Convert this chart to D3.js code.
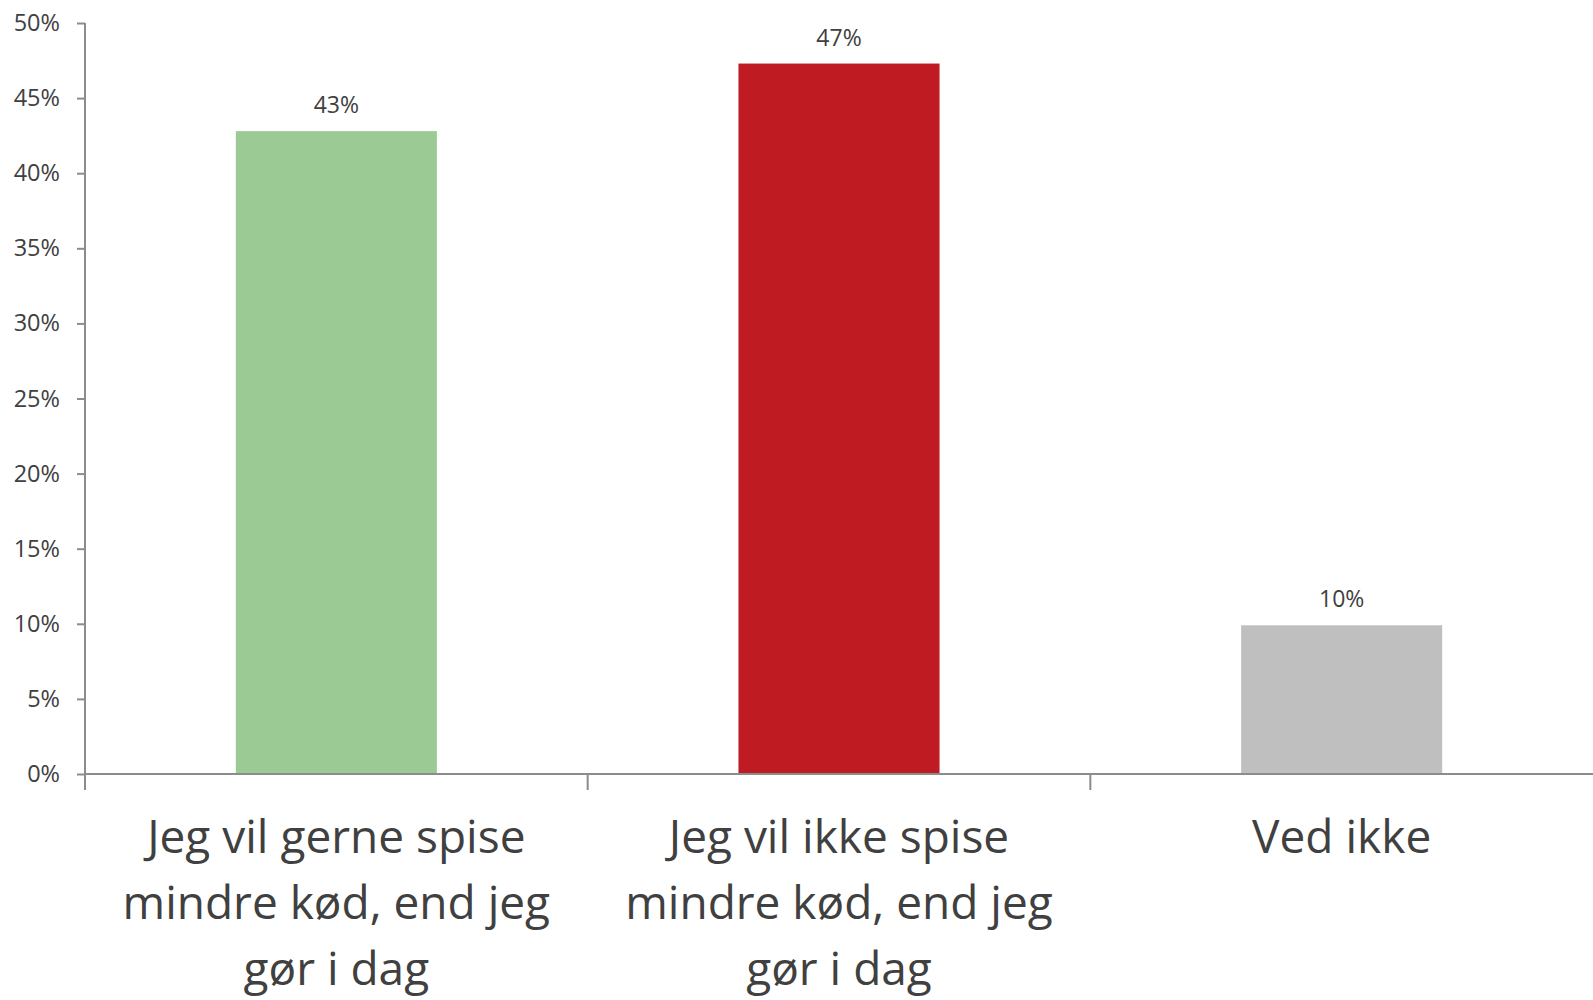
<!DOCTYPE html>
<html>
<head>
<meta charset="utf-8">
<script src="https://cdn.jsdelivr.net/npm/d3@7"></script>
<style>
  html, body { margin: 0; padding: 0; background: #ffffff; }
  svg { display: block; font-family: "Open Sans", sans-serif; }
</style>
</head>
<body>
<svg id="chart" width="1593" height="1000"></svg>
<script>
const categories = [
  "Jeg vil gerne spise mindre kød, end jeg gør i dag",
  "Jeg vil ikke spise mindre kød, end jeg gør i dag",
  "Ved ikke"
];
const categoryLines = [
  ["Jeg vil gerne spise", "mindre kød, end jeg", "gør i dag"],
  ["Jeg vil ikke spise", "mindre kød, end jeg", "gør i dag"],
  ["Ved ikke"]
];
const values = [0.428, 0.473, 0.099];
const valueLabels = ["43%", "47%", "10%"];
const barColors = ["#9BCA95", "#BE1B23", "#BFBFBF"];
const yTicks = [0, 0.05, 0.10, 0.15, 0.20, 0.25, 0.30, 0.35, 0.40, 0.45, 0.50];

(function () {
const svg = d3.select("#chart");
const mLeft = 85, mRight = 1593, mTop = 23, mBottom = 774;

const x = d3.scaleBand().domain(categories).range([mLeft, mRight]).paddingInner(0.6).paddingOuter(0.3);
const xb = d3.scaleBand().domain(categories).range([mLeft, mRight]).padding(0);
const y = d3.scaleLinear().domain([0, 0.5]).range([mBottom, mTop]);

const axisColor = "#8C8C8C";
const textColor = "#404040";

// bars
svg.append("g").selectAll("rect").data(categories).join("rect")
  .attr("x", d => x(d))
  .attr("width", x.bandwidth())
  .attr("y", (d, i) => y(values[i]))
  .attr("height", (d, i) => y(0) - y(values[i]))
  .attr("fill", (d, i) => barColors[i]);

// value labels
svg.append("g").selectAll("text").data(categories).join("text")
  .attr("x", d => x(d) + x.bandwidth() / 2)
  .attr("y", (d, i) => y(values[i]) - 18)
  .attr("text-anchor", "middle")
  .attr("font-size", 23)
  .attr("fill", textColor)
  .text((d, i) => valueLabels[i]);

// y axis
const yAxis = d3.axisLeft(y).tickValues(yTicks).tickFormat(d3.format(".0%")).tickSize(8).tickPadding(17);
const gy = svg.append("g").attr("transform", `translate(${mLeft},0)`).call(yAxis);
gy.select(".domain").remove();
gy.selectAll(".tick line").attr("stroke", axisColor).attr("stroke-width", 2);
gy.selectAll(".tick text").attr("font-size", 23.5).attr("fill", textColor).attr("font-family", "Open Sans, sans-serif");
svg.append("line").attr("x1", mLeft).attr("x2", mLeft).attr("y1", y(0.5)).attr("y2", mBottom + 16)
  .attr("stroke", axisColor).attr("stroke-width", 2);

// x axis
svg.append("line").attr("x1", mLeft).attr("x2", mRight).attr("y1", mBottom).attr("y2", mBottom)
  .attr("stroke", axisColor).attr("stroke-width", 2);
svg.append("g").selectAll("line").data(categories.slice(1)).join("line")
  .attr("x1", d => xb(d)).attr("x2", d => xb(d))
  .attr("y1", mBottom).attr("y2", mBottom + 16)
  .attr("stroke", axisColor).attr("stroke-width", 2);

// category labels
const gl = svg.append("g");
categories.forEach((c, i) => {
  const t = gl.append("text")
    .attr("x", xb(c) + xb.bandwidth() / 2)
    .attr("y", 853)
    .attr("text-anchor", "middle")
    .attr("font-size", 46)
    .attr("fill", textColor);
  categoryLines[i].forEach((ln, j) => {
    t.append("tspan").attr("x", xb(c) + xb.bandwidth() / 2).attr("dy", j === 0 ? 0 : 66).text(ln);
  });
});
})();
</script>
</body>
</html>
